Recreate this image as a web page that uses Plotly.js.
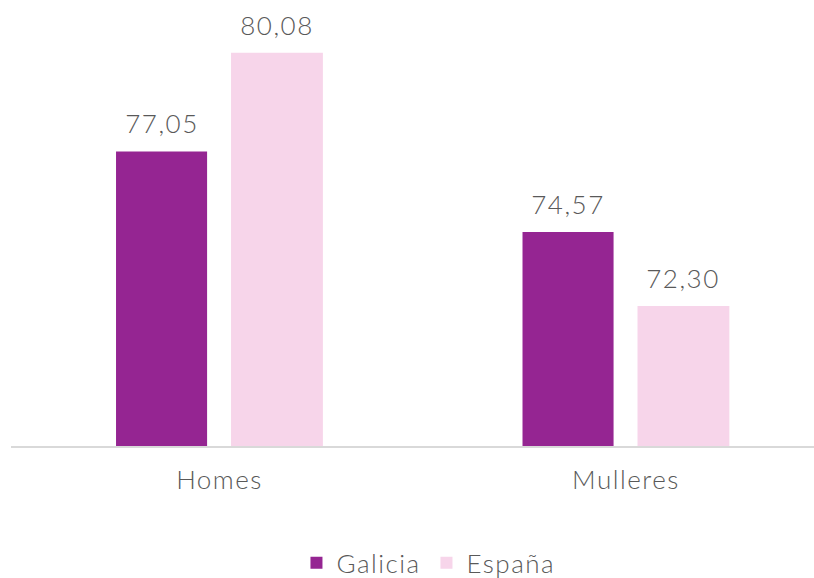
<!DOCTYPE html>
<html>
<head>
<meta charset="utf-8">
<script src="https://cdn.plot.ly/plotly-3.0.1.min.js"></script>
<style>html,body{margin:0;padding:0;background:#fff;}#chart{width:814px;height:578px;}#chart text{letter-spacing:1.5px;}</style>
</head>
<body>
<div id="chart"></div>
<script>
const categories = ["Homes", "Mulleres"];
const seriesNames = ["Galicia", "España"];
const galicia = [77.05, 74.57];
const espana = [80.08, 72.30];

const colors = ["#952592", "#F7D5EA"];
const offsets = [-0.2546, 0.0283];
const widths = [0.224, 0.226];
const fontFam = "Lato, 'Open Sans', sans-serif";
const txtColor = "#595959";

const seriesVals = [galicia, espana];
const traces = seriesVals.map((vals, i) => ({
  type: "bar",
  name: seriesNames[i],
  x: categories,
  y: vals,
  base: 0,
  offset: offsets[i],
  width: widths[i],
  marker: {color: colors[i]},
  hoverinfo: "skip"
}));

const annotations = [];
seriesVals.forEach((vals, i) => {
  vals.forEach((v, j) => {
    annotations.push({
      x: categories[j], y: v, xref: "x", yref: "y",
      text: v.toFixed(2).replace(".", ","),
      showarrow: false, yanchor: "bottom",
      xshift: (offsets[i] + widths[i] / 2) * 406.5,
      yshift: 10,
      font: {family: fontFam, size: 26, color: txtColor, weight: 300}
    });
  });
});

const layout = {
  width: 814, height: 578,
  margin: {l: 11, r: 0, t: 0, b: 132, autoexpand: false},
  paper_bgcolor: "#fff", plot_bgcolor: "#fff",
  barmode: "overlay",
  showlegend: true,
  legend: {orientation: "h", x: 0.3555, xanchor: "left", y: -0.262, yanchor: "middle", entrywidth: 85, entrywidthmode: "pixels",
    font: {family: fontFam, size: 26, color: txtColor, weight: 300}, itemwidth: 30, traceorder: "normal"},
  xaxis: {type: "category", range: [-0.513, 1.4625], showgrid: false, zeroline: false, automargin: false,
    showline: true, linecolor: "#D9D9D9", linewidth: 2, ticks: "", ticklabelstandoff: 10,
    tickfont: {family: fontFam, size: 26, color: txtColor, weight: 300}},
  yaxis: {range: [68, 81.7], visible: false, showgrid: false, zeroline: false},
  annotations: annotations
};

Plotly.newPlot("chart", traces, layout, {staticPlot: true, displayModeBar: false});
</script>
</body>
</html>
